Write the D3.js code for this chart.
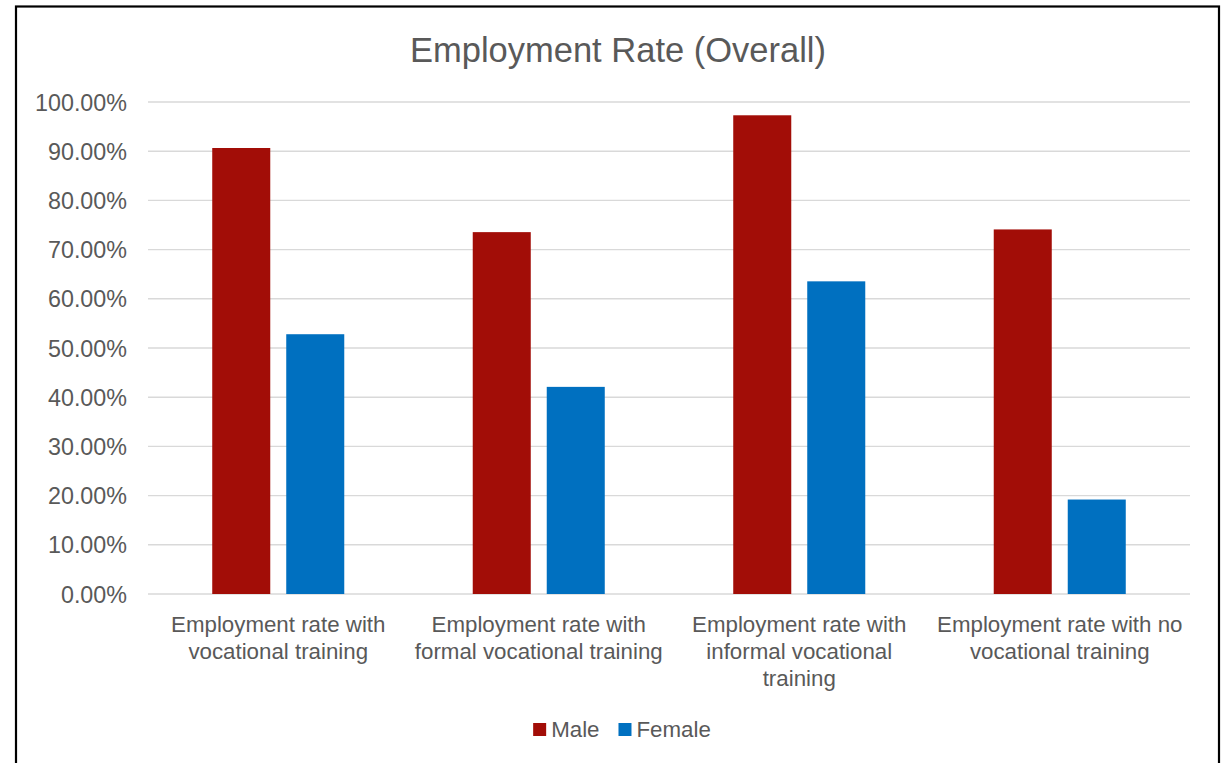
<!DOCTYPE html>
<html>
<head>
<meta charset="utf-8">
<script src="https://cdn.jsdelivr.net/npm/d3@7"></script>
<style>
  html, body { margin: 0; padding: 0; background: #fff; }
  svg { display: block; }
  text { font-family: "Liberation Sans", Arial, sans-serif; fill: #595959; }
</style>
</head>
<body>
<svg id="chart" width="1228" height="763"></svg>
<script>
// Employment rate by training type, split by sex
const categories = [
  "Employment rate with vocational training",
  "Employment rate with formal vocational training",
  "Employment rate with informal vocational training",
  "Employment rate with no vocational training"
];
const seriesNames = ["Male", "Female"];
const maleValues   = [0.9065, 0.7355, 0.9730, 0.7410];
const femaleValues = [0.5280, 0.4210, 0.6355, 0.1920];
const yTicks = [0, 0.1, 0.2, 0.3, 0.4, 0.5, 0.6, 0.7, 0.8, 0.9, 1.0];
const colors = { Male: "#A20D07", Female: "#0070C0" };

const svg = d3.select("#chart");

// Outer chart frame
svg.append("rect")
  .attr("x", 16).attr("y", 6.5)
  .attr("width", 1203).attr("height", 820)
  .attr("fill", "none").attr("stroke", "#000").attr("stroke-width", 2.2);

// Title
svg.append("text")
  .attr("x", 618).attr("y", 62)
  .attr("text-anchor", "middle")
  .style("font-size", "34.5px")
  .text("Employment Rate (Overall)");

const plot = { left: 148, right: 1190, top: 102, bottom: 594 };

const y = d3.scaleLinear().domain([0, 1]).range([plot.bottom, plot.top]);
const x0 = d3.scaleBand().domain(categories).range([plot.left, plot.right]).padding(0);
const x1 = d3.scaleBand().domain(seriesNames)
  .range([0, x0.bandwidth()]).paddingInner(0.216).paddingOuter(0.868);

// Gridlines
svg.append("g").selectAll("line").data(yTicks).join("line")
  .attr("x1", plot.left).attr("x2", plot.right)
  .attr("y1", d => y(d)).attr("y2", d => y(d))
  .attr("stroke", "#d9d9d9").attr("stroke-width", 1.4);

// Y axis labels
const yAxis = d3.axisLeft(y).tickValues(yTicks).tickSize(0).tickPadding(0)
  .tickFormat(d => (d * 100).toFixed(2) + "%");
const yg = svg.append("g").attr("transform", `translate(127,0)`).call(yAxis);
yg.select(".domain").remove();
yg.selectAll("text")
  .style("font-size", "23.3px")
  .style("font-family", "\"Liberation Sans\", Arial, sans-serif")
  .attr("fill", "#595959")
  .attr("dy", "0.35em");

// Bars
const rows = categories.map((c, i) => ({ cat: c, Male: maleValues[i], Female: femaleValues[i] }));
const groups = svg.append("g").selectAll("g").data(rows).join("g")
  .attr("transform", d => `translate(${x0(d.cat)},0)`);
groups.selectAll("rect")
  .data(d => seriesNames.map(s => ({ key: s, value: d[s] })))
  .join("rect")
  .attr("x", d => x1(d.key))
  .attr("width", x1.bandwidth())
  .attr("y", d => y(d.value))
  .attr("height", d => y(0) - y(d.value))
  .attr("fill", d => colors[d.key]);

// Category labels, wrapped to the band width
const maxLineWidth = 262;
const catG = svg.append("g");
categories.forEach(c => {
  const cx = x0(c) + x0.bandwidth() / 2;
  const t = catG.append("text")
    .attr("x", cx)
    .attr("y", 632)
    .attr("text-anchor", "middle")
    .style("font-size", "22.3px");
  const words = c.split(" ");
  let line = [];
  let tspan = t.append("tspan").attr("x", cx).attr("dy", 0);
  words.forEach(w => {
    line.push(w);
    tspan.text(line.join(" "));
    if (tspan.node().getComputedTextLength() > maxLineWidth && line.length > 1) {
      line.pop();
      tspan.text(line.join(" "));
      line = [w];
      tspan = t.append("tspan").attr("x", cx).attr("dy", 27).text(w);
    }
  });
});

// Legend
const legend = svg.append("g");
let lx = 0;
seriesNames.forEach((s, i) => {
  const g = legend.append("g");
  g.append("rect").attr("x", 0).attr("y", -6.5).attr("width", 13).attr("height", 13)
    .attr("fill", colors[s]);
  const tx = g.append("text").attr("x", 18).attr("y", 0).attr("dy", "0.35em")
    .style("font-size", "22.3px").text(s);
  const w = 18 + tx.node().getComputedTextLength();
  g.attr("transform", `translate(${lx},0)`);
  lx += w + (i < seriesNames.length - 1 ? 19 : 0);
});
legend.attr("transform", `translate(${622 - lx / 2},729.5)`);
</script>
</body>
</html>
